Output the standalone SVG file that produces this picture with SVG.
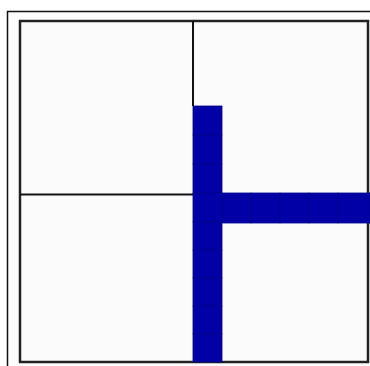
<svg xmlns="http://www.w3.org/2000/svg" width="370" height="366" viewBox="0 0 370 366">
<style>
.cell{fill:#0000a6;stroke:#00008a;stroke-width:0.8}
.ln{stroke:#111;stroke-width:2;fill:none}
</style>
<rect width="370" height="366" fill="#ffffff"/>
<rect x="7.5" y="11.5" width="364" height="360" fill="#fcfcfc" stroke="#111" stroke-width="1.5"/>
<rect x="20" y="21" width="348" height="341" fill="#fbfbfb" stroke="#222" stroke-width="2.5"/>
<g id="dividers">
<line class="ln" x1="193" y1="21" x2="193" y2="106"/>
<line class="ln" x1="20" y1="194.5" x2="193" y2="194.5"/>
</g>
<g id="shape">
<rect class="cell" x="193" y="106" width="29" height="29"/>
<rect class="cell" x="193" y="135" width="29" height="29"/>
<rect class="cell" x="193" y="164" width="29" height="29"/>
<rect class="cell" x="193" y="193" width="29" height="29"/>
<rect class="cell" x="193" y="222" width="29" height="28"/>
<rect class="cell" x="193" y="250" width="29" height="28"/>
<rect class="cell" x="193" y="278" width="29" height="28"/>
<rect class="cell" x="193" y="306" width="29" height="28"/>
<rect class="cell" x="193" y="334" width="29" height="28"/>
<rect class="cell" x="222" y="193" width="29" height="30"/>
<rect class="cell" x="251" y="193" width="29" height="30"/>
<rect class="cell" x="280" y="193" width="29" height="30"/>
<rect class="cell" x="309" y="193" width="29" height="30"/>
<rect class="cell" x="338" y="193" width="32" height="30"/>
</g>
</svg>
